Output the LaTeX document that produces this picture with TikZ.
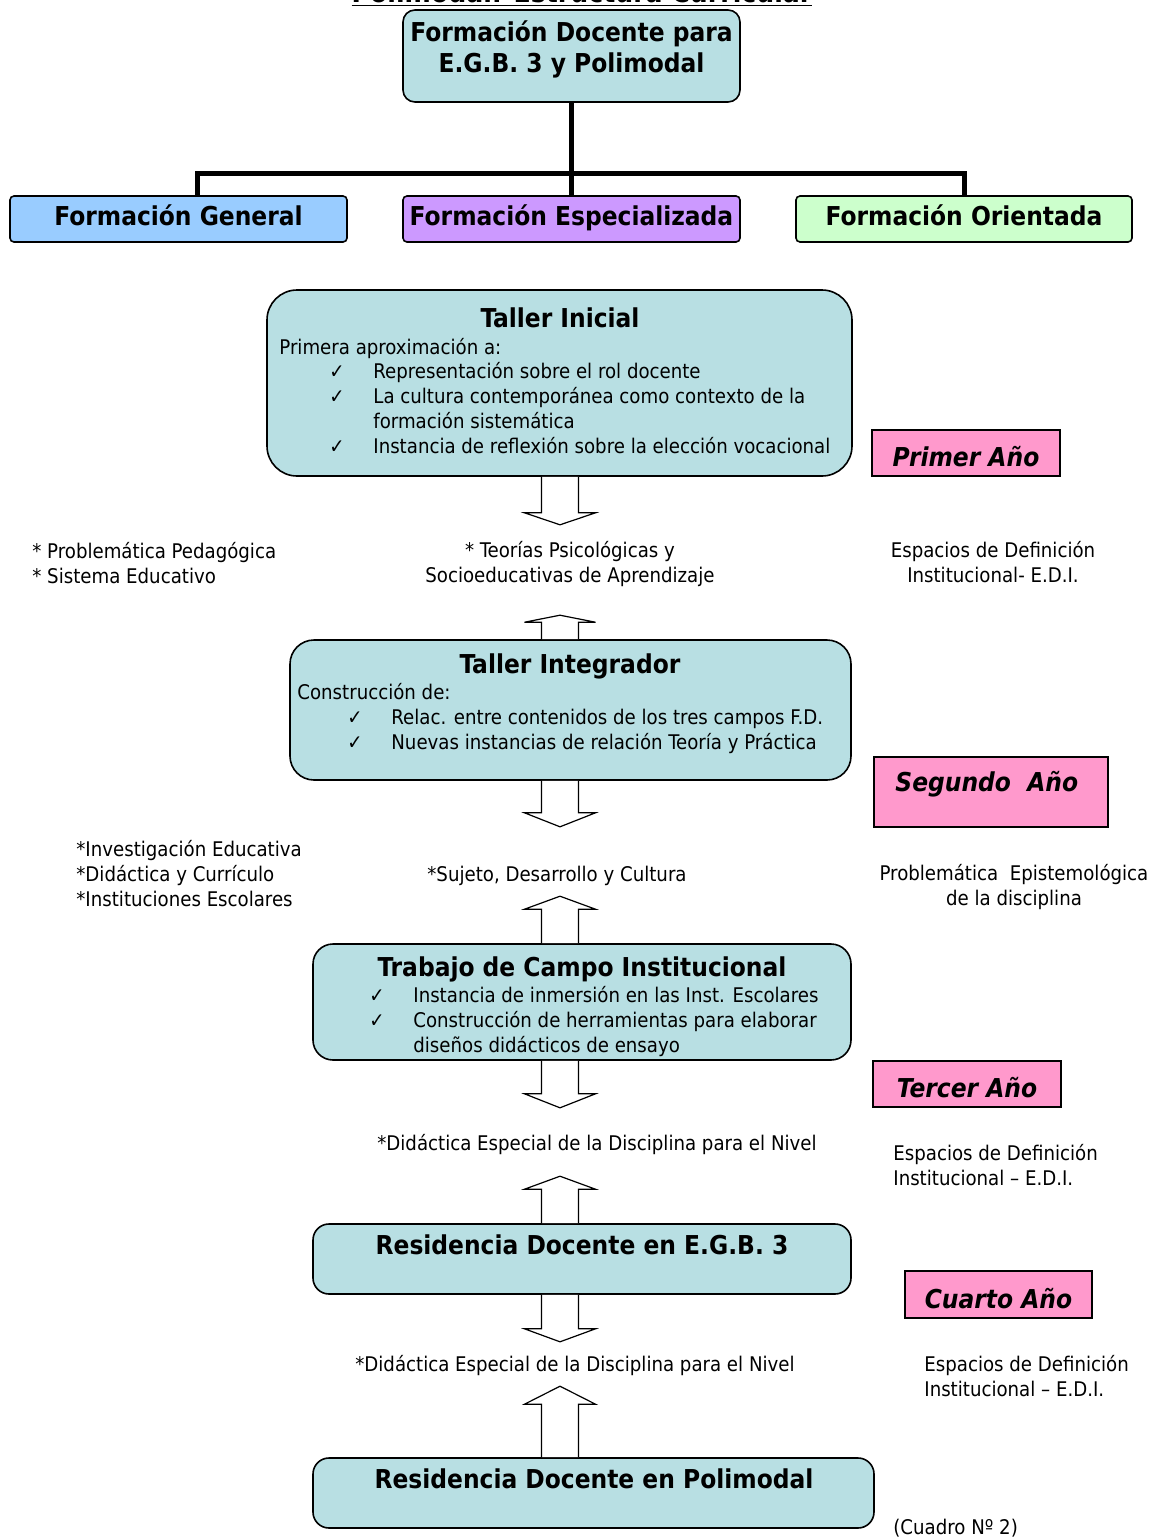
\documentclass[tikz,border=0pt]{standalone}
\usepackage{fontspec}
\setmainfont{DejaVu Sans Condensed}
\usepackage{tikz}
\usetikzlibrary{matrix, positioning}
\usepackage{xcolor}

\definecolor{celeste}{HTML}{B8DFE3}
\definecolor{azul}{HTML}{99CCFF}
\definecolor{lila}{HTML}{CC99FF}
\definecolor{verde}{HTML}{CCFFCC}
\definecolor{rosa}{HTML}{FF99CC}

\newcommand{\cuerpo}{\fontsize{10.1}{12.5}\selectfont}
\newcommand{\titulo}{\fontsize{13}{15.5}\selectfont\bfseries}

% flechas de bloque: punto de partida, largo del cuerpo, alto de la punta
\newcommand{\flechabaja}[3]{\draw[bloque] (#1) ++(-18.5,0) -- ++(0,#2) -- ++(-17,0) -- ++(35.5,#3) -- ++(35.5,-#3) -- ++(-17,0) -- ++(0,-#2);}
\newcommand{\flechasube}[3]{\draw[bloque] (#1) ++(-18.5,0) -- ++(0,-#2) -- ++(-17,0) -- ++(35.5,-#3) -- ++(35.5,#3) -- ++(-17,0) -- ++(0,#2);}

\begin{document}
\begin{tikzpicture}[x=0.5pt, y=-0.5pt,
  caja/.style={draw=black, line width=0.8pt, fill=celeste, rounded corners=#1},
  campo/.style={draw=black, line width=0.8pt, rounded corners=2pt, minimum height=23pt, inner sep=0pt, text depth=4pt, font=\titulo},
  anio/.style={draw=black, line width=0.6pt, fill=rosa, inner sep=0pt, text height=13.8pt, text depth=0pt, font=\titulo\itshape},
  rama/.style={draw=black, line width=2.5pt},
  bloque/.style={draw=black, fill=white, line width=0.6pt},
  texto/.style={inner sep=0pt, font=\cuerpo},
  lista/.style={matrix of nodes, inner sep=0pt, row sep=0pt, column sep=0pt,
    nodes={inner sep=0pt, font=\cuerpo, text height=8.5pt, text depth=4pt, anchor=base west},
    column 1/.style={nodes={text width=22pt}}},
  nodes in empty cells]

\useasboundingbox (0,0) rectangle (1151,1538);
\fill[white] (0,0) rectangle (1151,1538);
\coordinate (eje) at (560,0);
\coordinate (bus) at (0,173);

\node[anchor=base, inner sep=0pt, font=\fontsize{14}{16}\selectfont\bfseries] (encabezado) at (582,2) {\underline{Polimodal: Estructura Curricular}};

% raiz y campos
\node[caja=6pt, minimum width=168.5pt, minimum height=46pt] (raiz) at (571.5,56) {};
\node[anchor=north, align=center, inner sep=0pt, font=\titulo] (raiz-t) at (571.5,20) {Formación Docente para\\E.G.B. 3 y Polimodal};

\node[campo, fill=azul, minimum width=168.5pt] (general) at (178.5,219) {Formación General};
\node[campo, fill=lila, minimum width=168.5pt] (espec) at (571.5,219) {Formación Especializada};
\node[campo, fill=verde, minimum width=168pt] (orient) at (964,219) {Formación Orientada};

\draw[rama] (raiz.south) -- (espec.north);
\draw[rama] ([xshift=9.25pt]general.north) |- (orient.north |- bus) -- (orient.north);

% primer anio
\node[caja=15pt, minimum width=292.5pt, minimum height=93pt] (ti) at (559.5,383) {};
\node[anchor=mid, inner sep=0pt, font=\titulo] (ti-t) at (560,322) {Taller Inicial};
\node[texto, anchor=mid west] (ti-i) at (279,349) {Primera aproximación a:};
\matrix (ti-lista) [lista, anchor=north west] at (329,361) {
✓ & Representación sobre el rol docente \\
✓ & La cultura contemporánea como contexto de la \\
  & formación sistemática \\
✓ & Instancia de reflexión sobre la elección vocacional \\
};
\node[anio, minimum width=94pt, minimum height=23pt] (primero) at (966,453) {Primer Año};

\flechabaja{ti.south -| eje}{36}{12}

\node[texto, anchor=north west, align=left] (izq1) at (32,542) {* Problemática Pedagógica\\* Sistema Educativo};
\node[texto, anchor=north, align=center] (cen1) at (570,541) {* Teorías Psicológicas y\\Socioeducativas de Aprendizaje};
\node[texto, anchor=north, align=center] (der1) at (993,541) {Espacios de Definición\\Institucional- E.D.I.};

% segundo anio
\node[caja=12pt, minimum width=280.5pt, minimum height=70pt] (tint) at (570.5,710) {};
\node[anchor=mid, inner sep=0pt, font=\titulo] (tint-t) at (570,668) {Taller Integrador};
\node[texto, anchor=mid west] (tint-i) at (297,694) {Construcción de:};
\matrix (tint-lista) [lista, anchor=north west] at (347,707) {
✓ & Relac. entre contenidos de los tres campos F.D. \\
✓ & Nuevas instancias de relación Teoría y Práctica \\
};
\node[anio, minimum width=117pt, minimum height=35pt] (segundo) at (991,792) {};
\node[anchor=mid west, inner sep=0pt, font=\titulo\itshape] (segundo-t) at (895,786) {Segundo\ \ Año};

\flechasube{tint.north -| eje}{17}{7}
\flechabaja{tint.south -| eje}{32}{14}

\node[texto, anchor=north west, align=left] (izq2) at (76,840) {*Investigación Educativa\\*Didáctica y Currículo\\*Instituciones Escolares};
\node[texto, anchor=mid] (cen2) at (557,876) {*Sujeto, Desarrollo y Cultura};
\node[texto, anchor=north, align=center] (der2) at (1014,864) {Problemática\ \ Epistemológica\\de la disciplina};

% tercer anio
\node[caja=10pt, minimum width=269pt, minimum height=58pt] (trab) at (582,1002) {};
\node[anchor=mid, inner sep=0pt, font=\titulo] (trab-t) at (582,971) {Trabajo de Campo Institucional};
\matrix (trab-lista) [lista, anchor=north west] at (369,985) {
✓ & Instancia de inmersión en las Inst. Escolares \\
✓ & Construcción de herramientas para elaborar \\
  & diseños didácticos de ensayo \\
};
\node[anio, minimum width=94pt, minimum height=23pt] (tercero) at (967,1084) {Tercer Año};

\flechasube{trab.north -| eje}{34}{13}
\flechabaja{trab.south -| eje}{33}{14}

\node[texto, anchor=mid] (cen3) at (597,1145) {*Didáctica Especial de la Disciplina para el Nivel};
\node[texto, anchor=north west, align=left] (der3) at (893,1144) {Espacios de Definición\\Institucional – E.D.I.};

% cuarto anio
\node[caja=8pt, minimum width=269pt, minimum height=35pt] (regb) at (582,1259) {};
\node[anchor=mid, inner sep=0pt, font=\titulo] (regb-t) at (582,1249) {Residencia Docente en E.G.B. 3};
\node[anio, minimum width=93.5pt, minimum height=23.5pt] (cuarto) at (998.5,1294.5) {Cuarto Año};

\flechasube{regb.north -| eje}{34}{13}
\flechabaja{regb.south -| eje}{34}{13}

\node[texto, anchor=mid] (cen4) at (575,1366) {*Didáctica Especial de la Disciplina para el Nivel};
\node[texto, anchor=north west, align=left] (der4) at (924,1355) {Espacios de Definición\\Institucional – E.D.I.};

\node[caja=8pt, minimum width=280.5pt, minimum height=35pt] (rpoli) at (593.5,1493) {};
\node[anchor=mid, inner sep=0pt, font=\titulo] (rpoli-t) at (594,1483) {Residencia Docente en Polimodal};
\flechasube{rpoli.north -| eje}{53}{18}

\node[texto, anchor=mid west] (cuadro) at (893,1529) {(Cuadro Nº 2)};

\end{tikzpicture}
\end{document}
